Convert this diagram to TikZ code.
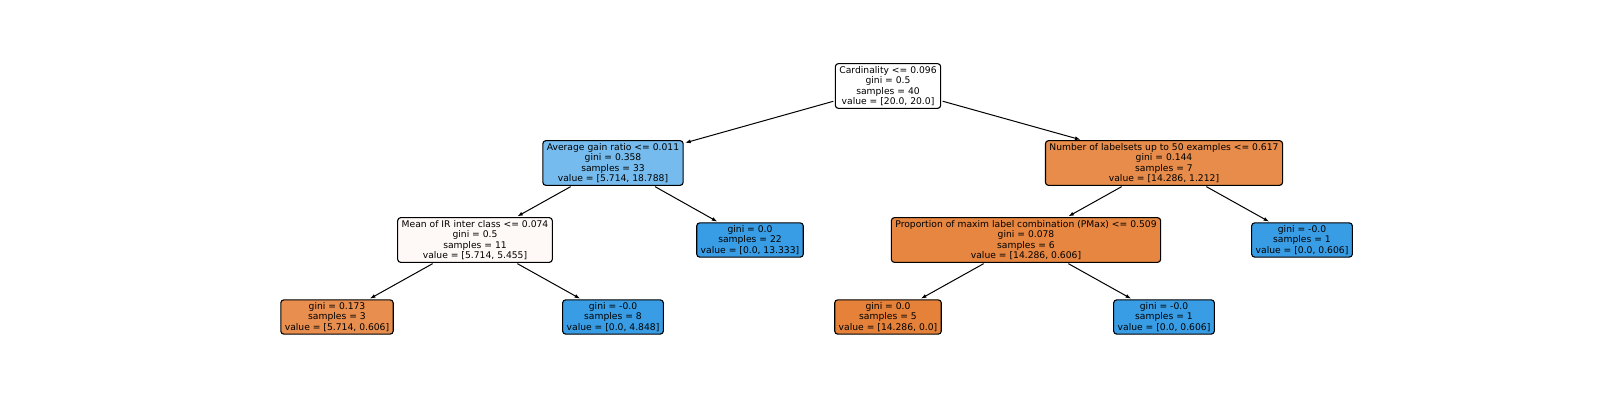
\documentclass[tikz,border=0pt]{standalone}
\usepackage{fontspec}
\setmainfont{DejaVu Sans}
\definecolor{mWhite}{HTML}{FFFFFF}
\definecolor{mLeafBlue}{HTML}{399DE5}
\definecolor{mLeafOrange}{HTML}{E58139}
\definecolor{mLightBlue}{HTML}{75BBED}
\definecolor{mNearWhite}{HTML}{FEF9F6}
\definecolor{mOrangeA}{HTML}{E78C4A}
\definecolor{mOrangeB}{HTML}{E68641}
\definecolor{mOrangeC}{HTML}{E88E4E}
\usetikzlibrary{positioning,arrows.meta}

\begin{document}
\begin{tikzpicture}[x=1pt, y=-1pt,
  treenode/.style={draw, rounded corners=3pt, line width=1.1pt, align=center,
    inner xsep=4pt, inner ysep=2.5pt, font=\fontsize{9.2}{10.5}\selectfont},
  treeedge/.style={-{Latex[length=5.5pt,width=4pt]}, line width=1pt,
    shorten >=1.5pt, shorten <=1.5pt}]
\useasboundingbox (0,0) rectangle (1600,400);
% split nodes
\node[treenode, fill=mWhite] (root) at (888,86)
  {Cardinality <= 0.096\\gini = 0.5\\samples = 40\\value = [20.0, 20.0]};
\node[treenode, fill=mLightBlue] (avgGain) at (613,163)
  {Average gain ratio <= 0.011\\gini = 0.358\\samples = 33\\value = [5.714, 18.788]};
\node[treenode, fill=mOrangeA] (numLabelsets) at (1164,163)
  {Number of labelsets up to 50 examples <= 0.617\\gini = 0.144\\samples = 7\\value = [14.286, 1.212]};
\node[treenode, fill=mNearWhite] (meanIR) at (475,240)
  {Mean of IR inter class <= 0.074\\gini = 0.5\\samples = 11\\value = [5.714, 5.455]};
\node[treenode, fill=mOrangeB] (pMax) at (1026,240)
  {Proportion of maxim label combination (PMax) <= 0.509\\gini = 0.078\\samples = 6\\value = [14.286, 0.606]};
% leaves
\node[treenode, fill=mLeafBlue] (leafA) at (750,240)
  {gini = 0.0\\samples = 22\\value = [0.0, 13.333]};
\node[treenode, fill=mLeafBlue] (leafB) at (1302,240)
  {gini = -0.0\\samples = 1\\value = [0.0, 0.606]};
\node[treenode, fill=mOrangeC] (leafC) at (337,317)
  {gini = 0.173\\samples = 3\\value = [5.714, 0.606]};
\node[treenode, fill=mLeafBlue] (leafD) at (613,317)
  {gini = -0.0\\samples = 8\\value = [0.0, 4.848]};
\node[treenode, fill=mLeafOrange] (leafE) at (888,317)
  {gini = 0.0\\samples = 5\\value = [14.286, 0.0]};
\node[treenode, fill=mLeafBlue] (leafF) at (1164,317)
  {gini = -0.0\\samples = 1\\value = [0.0, 0.606]};
% edges
\draw[treeedge] (root) -- (avgGain);
\draw[treeedge] (root) -- (numLabelsets);
\draw[treeedge] (avgGain) -- (meanIR);
\draw[treeedge] (avgGain) -- (leafA);
\draw[treeedge] (meanIR) -- (leafC);
\draw[treeedge] (meanIR) -- (leafD);
\draw[treeedge] (numLabelsets) -- (pMax);
\draw[treeedge] (numLabelsets) -- (leafB);
\draw[treeedge] (pMax) -- (leafE);
\draw[treeedge] (pMax) -- (leafF);
\end{tikzpicture}
\end{document}
